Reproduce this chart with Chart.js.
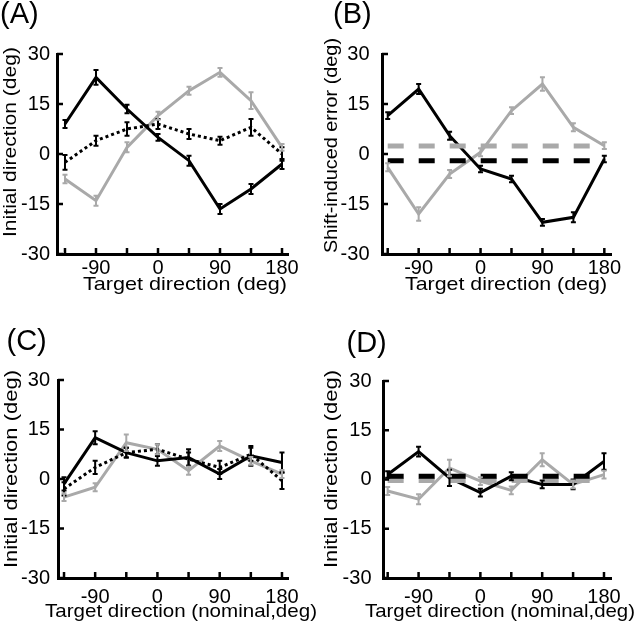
<!DOCTYPE html>
<html>
<head>
<meta charset="utf-8">
<script src="https://cdn.jsdelivr.net/npm/chart.js@4.4.0/dist/chart.umd.min.js"></script>
<style>
  html, body { margin: 0; padding: 0; background: #fff; }
  #wrap { position: relative; width: 640px; height: 631px; overflow: hidden; }
  canvas { position: absolute; }
</style>
</head>
<body>
<div id="wrap">
  <canvas id="pA" width="320" height="300" style="left:0;top:0"></canvas>
  <canvas id="pB" width="320" height="300" style="left:320px;top:0"></canvas>
  <canvas id="pC" width="320" height="321" style="left:0;top:310px"></canvas>
  <canvas id="pD" width="320" height="321" style="left:320px;top:310px"></canvas>
</div>
<script>
// target directions (deg) and tick values
const dirs = [-135, -90, -45, 0, 45, 90, 135, 180];
const xLabelTicks = [-90, 0, 90, 180];
const yTickVals = [-30, -15, 0, 15, 30];

// (A) initial direction
const aBlack = [9, 23, 13.5, 5, -2, -16.5, -10.5, -3];
const aBlackErr = [1.2, 2.2, 1.3, 1, 1.5, 1.5, 1.5, 1.5];
const aGray = [-7.5, -14, 2, 11.5, 19, 24.5, 16, 2];
const aGrayErr = [1.3, 1.5, 1.5, 1.2, 1.2, 1.3, 2.5, 1];
const aDot = [-2.5, 4, 7.5, 9, 6, 4, 8, 0];
const aDotErr = [2.2, 1.5, 2, 1.5, 1.5, 1.2, 2.5, 2];

// (B) shift-induced error
const bBlack = [11.5, 19.5, 5.5, -4.5, -7.5, -20.5, -19, -1.5];
const bBlackErr = [1, 1.5, 1.2, 1, 1, 1, 1.5, 1];
const bGray = [-4, -18, -6, 0.5, 13, 21, 8, 2.5];
const bGrayErr = [1.2, 2, 1.2, 1.2, 1, 2, 1.2, 1];
const bBlackMean = -2;
const bGrayMean = 2.4;

// (C) initial direction, nominal target
const cBlack = [-1.5, 12.5, 8, 5.5, 6.5, 1.5, 7, 5];
const cBlackErr = [2, 2, 1.5, 1.5, 2.5, 1.5, 3, 3];
const cGray = [-5.5, -2.5, 11, 9, 2.5, 10, 5.5, 1.5];
const cGrayErr = [1.2, 1.2, 2.5, 1.5, 1.2, 1.5, 1.2, 1.2];
const cDot = [-3, 3.5, 8, 9, 6, 3.5, 7.5, -0.5];
const cDotErr = [2, 2, 1.5, 1.5, 2, 2, 2, 2.5];

// (D) initial direction, nominal target
const dBlack = [1.5, 8.5, 0.5, -4, 1, -1.5, -1.5, 5.5];
const dBlackErr = [1, 1.5, 2.5, 1.2, 1.2, 1.2, 1.5, 2.5];
const dGray = [-3.5, -6, 3.5, -0.5, -3.3, 6, -1.5, 1.5];
const dGrayErr = [1.2, 1.5, 2.5, 1.2, 1.2, 2, 1.2, 1.2];
const dBlackMean = 1;
const dGrayMean = -0.3;

const GRAY = '#a9a9a9';
const FONT = "'Liberation Sans', Arial, sans-serif";

const solidBlack = { borderColor: '#000', borderWidth: 3 };
const solidGray = { borderColor: GRAY, borderWidth: 3 };
const dotted = { borderColor: '#000', borderWidth: 3, borderDash: [3, 3] };
const meanBlack = { borderColor: '#000', borderWidth: 5, borderDash: [16, 15] };
const meanGray = { borderColor: GRAY, borderWidth: 5, borderDash: [16, 15] };

function series(ys, err, style) {
  return Object.assign({
    data: dirs.map((x, i) => ({ x, y: ys[i] })),
    err, pointRadius: 0, tension: 0, fill: false, borderCapStyle: 'butt'
  }, style);
}

function meanLine(m, style) {
  return Object.assign({
    data: [{ x: dirs[0], y: m }, { x: dirs[dirs.length - 1], y: m }],
    pointRadius: 0, fill: false, borderCapStyle: 'butt'
  }, style);
}

// scale text along its direction so it spans the width seen in the figure
function fitText(ctx, text, w) {
  const m = ctx.measureText(text).width;
  ctx.scale(w / m, 1);
  ctx.fillText(text, 0, 0);
}

const decor = {
  id: 'decor',
  afterDatasetsDraw(chart) {
    const ctx = chart.ctx, xs = chart.scales.x, ys = chart.scales.y;
    ctx.save();
    ctx.setLineDash([]);
    ctx.lineWidth = 2;
    chart.data.datasets.forEach(ds => {
      if (!ds.err) return;
      ctx.strokeStyle = ds.borderColor;
      ds.data.forEach((p, i) => {
        const px = xs.getPixelForValue(p.x);
        const lo = ys.getPixelForValue(p.y - ds.err[i]);
        const hi = ys.getPixelForValue(p.y + ds.err[i]);
        ctx.beginPath();
        ctx.moveTo(px, lo); ctx.lineTo(px, hi);
        ctx.moveTo(px - 2.5, lo); ctx.lineTo(px + 2.5, lo);
        ctx.moveTo(px - 2.5, hi); ctx.lineTo(px + 2.5, hi);
        ctx.stroke();
      });
    });
    ctx.restore();
  },
  afterDraw(chart, args, o) {
    const ctx = chart.ctx, xs = chart.scales.x, ys = chart.scales.y;
    const a = chart.chartArea;
    ctx.save();
    // inward tick marks
    ctx.strokeStyle = '#000';
    ctx.lineWidth = 2.5;
    ctx.beginPath();
    dirs.forEach(v => {
      const px = xs.getPixelForValue(v);
      ctx.moveTo(px, a.bottom); ctx.lineTo(px, a.bottom - 6);
    });
    yTickVals.forEach(v => {
      const py = ys.getPixelForValue(v);
      ctx.moveTo(a.left, py); ctx.lineTo(a.left + 6, py);
    });
    ctx.stroke();

    ctx.fillStyle = '#000';
    // panel letter
    ctx.font = '29px ' + FONT;
    ctx.textAlign = 'left';
    ctx.textBaseline = 'alphabetic';
    ctx.fillText(o.letter, o.letterX, o.letterY);

    // axis titles
    ctx.font = '19px ' + FONT;
    ctx.textAlign = 'center';
    ctx.save();
    ctx.translate(o.xTitleX, o.xTitleY);
    fitText(ctx, o.xTitle, o.xTitleW);
    ctx.restore();
    ctx.save();
    ctx.translate(o.yTitleX, o.yTitleY);
    ctx.rotate(-Math.PI / 2);
    fitText(ctx, o.yTitle, o.yTitleW);
    ctx.restore();
    ctx.restore();
  }
};

const panels = [
  { id: 'pA', h: 300, area: { l: 57, r: 288, t: 54, b: 254 }, xMin: -146.6, xMax: 188.7,
    xPad: 2, yPad: 7,
    text: { letter: '(A)', letterX: 0, letterY: 22.5,
      xTitle: 'Target direction (deg)', xTitleX: 185, xTitleY: 290, xTitleW: 204,
      yTitle: 'Initial direction (deg)', yTitleX: 16, yTitleY: 142, yTitleW: 190 },
    sets: [series(aBlack, aBlackErr, solidBlack), series(aDot, aDotErr, dotted), series(aGray, aGrayErr, solidGray)] },
  { id: 'pB', h: 300, area: { l: 62, r: 291, t: 54, b: 254 }, xMin: -143.3, xMax: 189.7,
    xPad: 2, yPad: 12.5,
    text: { letter: '(B)', letterX: 13, letterY: 22.5,
      xTitle: 'Target direction (deg)', xTitleX: 186, xTitleY: 289.5, xTitleW: 202,
      yTitle: 'Shift-induced error (deg)', yTitleX: 17, yTitleY: 145.5, yTitleW: 215 },
    sets: [meanLine(bBlackMean, meanBlack), meanLine(bGrayMean, meanGray),
      series(bBlack, bBlackErr, solidBlack), series(bGray, bGrayErr, solidGray)] },
  { id: 'pC', h: 321, area: { l: 58, r: 288, t: 70, b: 268 }, xMin: -143.7, xMax: 188.7,
    xPad: 7, yPad: 8,
    text: { letter: '(C)', letterX: 6.5, letterY: 40,
      xTitle: 'Target direction (nominal,deg)', xTitleX: 181, xTitleY: 306.5, xTitleW: 272,
      yTitle: 'Initial direction (deg)', yTitleX: 16.5, yTitleY: 159, yTitleW: 198 },
    sets: [series(cBlack, cBlackErr, solidBlack), series(cDot, cDotErr, dotted), series(cGray, cGrayErr, solidGray)] },
  { id: 'pD', h: 321, area: { l: 63, r: 291, t: 71, b: 268 }, xMin: -141.8, xMax: 190.2,
    xPad: 7, yPad: 11.5,
    text: { letter: '(D)', letterX: 26.5, letterY: 41.5,
      xTitle: 'Target direction (nominal,deg)', xTitleX: 180, xTitleY: 306.5, xTitleW: 270,
      yTitle: 'Initial direction (deg)', yTitleX: 16.5, yTitleY: 159, yTitleW: 198 },
    sets: [meanLine(dBlackMean, meanBlack), meanLine(dGrayMean, meanGray),
      series(dBlack, dBlackErr, solidBlack), series(dGray, dGrayErr, solidGray)] }
];

panels.forEach(p => {
  const tickFont = { family: FONT, size: 20 };
  new Chart(document.getElementById(p.id), {
    type: 'line',
    data: { datasets: p.sets },
    plugins: [decor],
    options: {
      responsive: false,
      animation: false,
      layout: { padding: { left: 0, top: p.area.t, right: 320 - p.area.r, bottom: 0 } },
      plugins: { legend: { display: false }, tooltip: { enabled: false }, decor: p.text },
      scales: {
        x: {
          type: 'linear', min: p.xMin, max: p.xMax,
          afterBuildTicks: s => { s.ticks = xLabelTicks.map(v => ({ value: v })); },
          afterFit: s => { s.height = p.h - p.area.b; },
          grid: { display: false, drawTicks: false },
          border: { color: '#000', width: 3 },
          ticks: { color: '#000', font: tickFont, padding: p.xPad, maxRotation: 0, autoSkip: false }
        },
        y: {
          type: 'linear', min: -30, max: 30,
          afterBuildTicks: s => { s.ticks = yTickVals.map(v => ({ value: v })); },
          afterFit: s => { s.width = p.area.l; },
          grid: { display: false, drawTicks: false },
          border: { color: '#000', width: 3 },
          ticks: { color: '#000', font: tickFont, padding: p.yPad }
        }
      }
    }
  });
});
</script>
</body>
</html>
